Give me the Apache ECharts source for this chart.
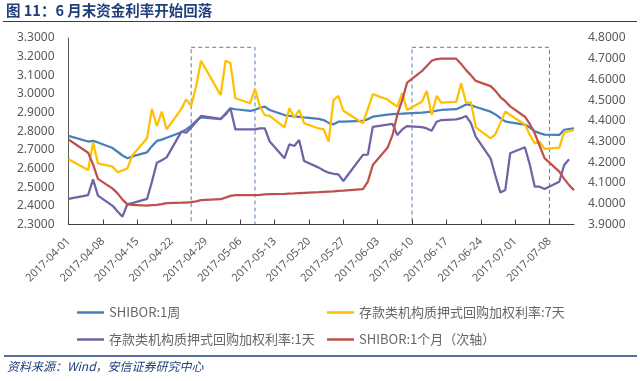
<!DOCTYPE html>
<html><head><meta charset="utf-8">
<script src="https://cdn.jsdelivr.net/npm/echarts@6/dist/echarts.min.js"></script>
<style>html,body{margin:0;padding:0;background:#fff}#c{width:640px;height:381px}</style>
</head><body><div id="c"></div>
<script>
// Trading dates (x positions of all points)
const tradeDates = [
'2017-04-01','2017-04-05','2017-04-06','2017-04-07',
'2017-04-10','2017-04-11','2017-04-12','2017-04-13','2017-04-14',
'2017-04-17','2017-04-18','2017-04-19','2017-04-20','2017-04-21',
'2017-04-24','2017-04-25','2017-04-26','2017-04-27','2017-04-28',
'2017-05-02','2017-05-03','2017-05-04','2017-05-05',
'2017-05-08','2017-05-09','2017-05-10','2017-05-11','2017-05-12',
'2017-05-15','2017-05-16','2017-05-17','2017-05-18','2017-05-19',
'2017-05-22','2017-05-23','2017-05-24','2017-05-25','2017-05-26','2017-05-27',
'2017-05-31','2017-06-01','2017-06-02',
'2017-06-05','2017-06-06','2017-06-07','2017-06-08','2017-06-09',
'2017-06-12','2017-06-13','2017-06-14','2017-06-15','2017-06-16',
'2017-06-19','2017-06-20','2017-06-21','2017-06-22','2017-06-23',
'2017-06-26','2017-06-27','2017-06-28','2017-06-29','2017-06-30',
'2017-07-03','2017-07-04','2017-07-05','2017-07-06','2017-07-07',
'2017-07-10','2017-07-11','2017-07-12','2017-07-13'];

// SHIBOR:1周 (left axis)
const shibor1w = [
2.775,2.745,2.748,2.740,
2.710,2.690,2.670,2.655,2.665,
2.687,2.720,2.748,2.755,2.765,
2.795,2.810,2.830,2.855,2.875,
2.865,2.895,2.923,2.918,
2.909,2.915,2.926,2.932,2.914,
2.887,2.883,2.880,2.877,2.874,
2.866,2.860,2.845,2.837,2.851,2.852,
2.855,2.865,2.878,
2.889,2.892,2.893,2.894,2.896,
2.900,2.902,2.905,2.910,2.914,
2.918,2.930,2.944,2.940,2.930,
2.905,2.890,2.870,2.853,2.847,
2.836,2.820,2.800,2.790,2.782,
2.780,2.808,2.812,2.816];

// 存款类机构质押式回购加权利率:7天 (left axis)
const repo7d = [
2.650,2.592,2.739,2.628,
2.610,2.580,2.590,2.601,2.670,
2.762,2.919,2.828,2.905,2.810,
2.920,2.971,2.937,3.040,3.178,
2.994,3.178,3.164,2.977,
2.950,3.027,2.930,2.887,2.882,
2.821,2.923,2.873,2.914,2.843,
2.815,2.810,2.744,2.968,2.989,2.910,
2.843,2.920,2.999,
2.970,2.950,2.932,3.004,2.914,
2.958,3.016,2.887,2.989,2.953,
2.957,3.057,2.953,2.955,2.821,
2.762,2.785,2.845,2.905,2.887,
2.836,2.780,2.735,2.744,2.705,
2.712,2.795,2.800,2.807];

// 存款类机构质押式回购加权利率:1天 (left axis, ends 07-12)
const repo1d = [
2.437,2.458,2.542,2.455,
2.400,2.370,2.342,2.410,2.415,
2.437,2.530,2.631,2.645,2.660,
2.798,2.792,2.820,2.850,2.882,
2.866,2.890,2.923,2.810,
2.810,2.810,2.815,2.816,2.745,
2.655,2.730,2.721,2.753,2.640,
2.605,2.590,2.578,2.572,2.569,2.533,
2.673,2.675,2.824,
2.835,2.840,2.780,2.810,2.828,
2.822,2.815,2.803,2.851,2.860,
2.864,2.870,2.882,2.843,2.770,
2.655,2.560,2.471,2.485,2.682,
2.714,2.620,2.503,2.503,2.490,
2.529,2.619,2.650];

// SHIBOR:1个月 (right axis)
const shibor1m = [
4.310,4.246,4.190,4.120,
4.073,4.050,4.020,3.997,3.995,
3.991,3.993,3.995,3.998,4.003,
4.005,4.006,4.008,4.012,4.018,
4.022,4.030,4.038,4.042,
4.042,4.042,4.043,4.045,4.046,
4.048,4.049,4.050,4.052,4.053,
4.056,4.058,4.059,4.060,4.062,4.063,
4.071,4.107,4.187,
4.270,4.330,4.430,4.500,4.585,
4.640,4.665,4.690,4.698,4.700,
4.700,4.675,4.645,4.620,4.593,
4.568,4.545,4.515,4.495,4.470,
4.420,4.385,4.340,4.280,4.220,
4.155,4.120,4.090,4.066];

const seriesNames = ['SHIBOR:1周','存款类机构质押式回购加权利率:7天','存款类机构质押式回购加权利率:1天','SHIBOR:1个月（次轴）'];
const seriesColors = ['#4A7EBB','#FFC000','#7262A6','#C0504D'];
const boxes = [['2017-04-26','2017-05-09'],['2017-06-10','2017-07-08']];
const boxTop = 3.25, boxBottom = 2.3;

// calendar-day category axis 2017-04-01 .. 2017-07-13
const cats = [];
for (let t = Date.UTC(2017,3,1); t <= Date.UTC(2017,6,13); t += 86400000) {
  cats.push(new Date(t).toISOString().slice(0,10));
}
const pairs = arr => arr.map((v,i)=>[tradeDates[i], v]);

const font = "'Noto Sans', 'Noto Sans CJK SC', sans-serif";
const cjk = "'Noto Sans CJK SC', sans-serif";
const chart = echarts.init(document.getElementById('c'), null, {renderer:'canvas'});

function leg(name, left, top){
  return {data:[name], left:left, top:top, icon:'rect', itemWidth:27, itemHeight:2.5,
    textStyle:{fontSize:13, color:'#666666', fontFamily:cjk}, padding:0, itemGap:0};
}

chart.setOption({
  animation:false,
  backgroundColor:'#fff',
  title:{text:'图 11：6 月末资金利率开始回落', left:6, top:3, padding:0,
    textStyle:{fontSize:14.5, fontWeight:'bold', color:'#1F3F7A', fontFamily:cjk}},
  legend:[
    leg(seriesNames[0], 77, 306),
    leg(seriesNames[1], 327, 306),
    leg(seriesNames[2], 77, 333),
    leg(seriesNames[3], 327, 333)
  ],
  grid:{left:68.5, right:66, top:38, bottom:156.5, containLabel:false},
  xAxis:{type:'category', data:cats, boundaryGap:false, z:5,
    axisLine:{lineStyle:{color:'#404040', width:1}},
    axisTick:{inside:true, interval:6, length:5, lineStyle:{color:'#404040'}},
    axisLabel:{interval:6, rotate:45, fontSize:11, color:'#595959', margin:15, fontFamily:font},
    splitLine:{show:false}},
  yAxis:[
    {type:'value', min:2.3, max:3.3, interval:0.1,
      axisLine:{show:true, lineStyle:{color:'#595959'}}, axisTick:{show:false}, splitLine:{show:false},
      axisLabel:{formatter:v=>v.toFixed(4), fontSize:12, color:'#595959', margin:14, fontFamily:font}},
    {type:'value', min:3.9, max:4.8, interval:0.1, position:'right',
      axisLine:{show:false}, axisTick:{show:false}, splitLine:{show:false},
      axisLabel:{formatter:v=>v.toFixed(4), fontSize:12, color:'#595959', margin:14, fontFamily:font}}
  ],
  series:[
    {name:seriesNames[0], type:'line', yAxisIndex:0, data:pairs(shibor1w), showSymbol:false, symbol:'none',
      lineStyle:{width:2.25, color:seriesColors[0]}, itemStyle:{color:seriesColors[0]},
      markArea:{silent:true, itemStyle:{color:'rgba(0,0,0,0)', borderColor:'#5B7DB1', borderWidth:1, borderType:[4,3]},
        data: boxes.map(b=>[{xAxis:b[0], yAxis:boxTop},{xAxis:b[1], yAxis:boxBottom}])}},
    {name:seriesNames[1], type:'line', yAxisIndex:0, data:pairs(repo7d), showSymbol:false, symbol:'none',
      lineStyle:{width:2.25, color:seriesColors[1]}, itemStyle:{color:seriesColors[1]}},
    {name:seriesNames[2], type:'line', yAxisIndex:0, data:pairs(repo1d), showSymbol:false, symbol:'none',
      lineStyle:{width:2.25, color:seriesColors[2]}, itemStyle:{color:seriesColors[2]}},
    {name:seriesNames[3], type:'line', yAxisIndex:1, data:pairs(shibor1m), showSymbol:false, symbol:'none',
      lineStyle:{width:2.25, color:seriesColors[3]}, itemStyle:{color:seriesColors[3]}}
  ],
  graphic:[
    {type:'line', shape:{x1:3, y1:21.5, x2:637, y2:21.5}, style:{stroke:'#1F3F7A', lineWidth:1.2}},
    {type:'line', shape:{x1:4, y1:356, x2:637, y2:356}, style:{stroke:'#1F3F7A', lineWidth:1.5}},
    {type:'text', left:7, top:360, style:{text:'资料来源：Wind，安信证券研究中心', fontSize:12, fontStyle:'italic',
      fill:'#1F3F7A', fontFamily:cjk}}
  ]
});
</script></body></html>
